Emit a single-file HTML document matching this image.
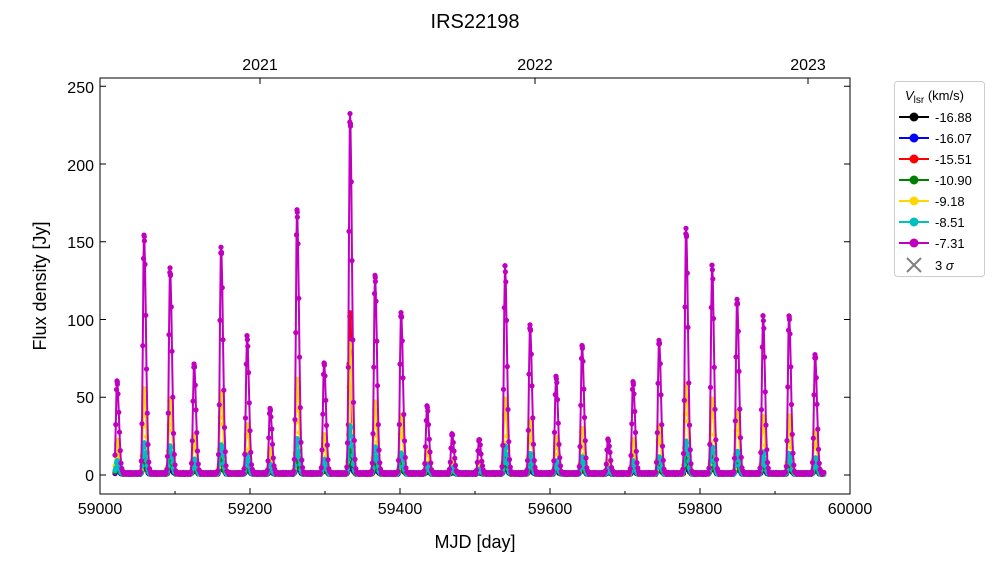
<!DOCTYPE html>
<html><head><meta charset="utf-8"><style>
body{margin:0;background:#fff;}
svg{font-family:"Liberation Sans","DejaVu Sans",sans-serif;}
</style></head><body>
<svg id="s" width="1000" height="562" xmlns="http://www.w3.org/2000/svg">
<rect width="1000" height="562" fill="#fff"/>
<text x="475" y="28" font-size="20" text-anchor="middle">IRS22198</text>
<g id="data"></g>
<rect x="100" y="78" width="750" height="416" fill="none" stroke="#000" stroke-width="1"/>
<g id="ticks" stroke="#000" stroke-width="1"></g>
<g font-size="16" text-anchor="middle">
<text x="100" y="514">59000</text><text x="250" y="514">59200</text><text x="400" y="514">59400</text><text x="550" y="514">59600</text><text x="700" y="514">59800</text><text x="850" y="514">60000</text>
<text x="260" y="70">2021</text><text x="535" y="70">2022</text><text x="808" y="70">2023</text>
</g>
<g font-size="16" text-anchor="end">
<text x="94" y="481">0</text><text x="94" y="403">50</text><text x="94" y="326">100</text><text x="94" y="248">150</text><text x="94" y="171">200</text><text x="94" y="93">250</text>
</g>
<text x="475" y="548" font-size="18" text-anchor="middle">MJD [day]</text>
<text transform="translate(46,286) rotate(-90)" font-size="18" text-anchor="middle">Flux density [Jy]</text>
<g id="leg">
<rect x="894.5" y="81.5" width="90" height="195" rx="3" fill="#fff" stroke="#ccc"/>
<text x="905" y="100" font-size="13"><tspan font-style="italic">V</tspan><tspan font-size="10" dy="3">lsr</tspan><tspan dy="-3"> (km/s)</tspan></text>
</g>
</svg>
<script>
const X=m=>100+(m-59000)*0.75, Y=v=>475-v*1.555;
const peaks=[[117,59],[144,153],[170,132],[194,70],[221,146],[247,88],[270,42],[297,169],[324,71],[350,231],[375,127],[401,104],[427,43],[452,25],[479,22],[505,133],[530,95],[556,63],[582,82],[608,22],[633,59],[659,86],[686,158],[712,134],[737,112],[763,101],[789,102],[815,76]];
const series=[["#000",0.04],["#0000ff",0.05],["#ff0000",0.08],["#008000",0.07],["#ffd700",0.36],["#00bfbf",0.13],["#bf00bf",1]];
const NS="http://www.w3.org/2000/svg";
const g=document.getElementById('data');
function el(t,a,p){const e=document.createElementNS(NS,t);for(const k in a)e.setAttribute(k,a[k]);(p||g).appendChild(e);return e;}
const pm=peaks.map(p=>[59000+(p[0]-100)/0.75,p[1]]);
let days=[];for(let d=59020;d<=59965;d+=1)days.push(d);
pm.forEach(p=>{days.push(p[0]);days.push(p[0]+0.6);});
days.sort((a,b)=>a-b);
function flux(d,sc,k){let v=0;for(const [t,A] of pm){const dt=d-t;const s=dt<0?1.5:2.6;v+=A*Math.exp(-dt*dt/(2*s*s));}
 let f=v*sc; if(k===2&&Math.abs(d-59333)<3)f=v*0.45; return f+1+0.6*Math.sin(d*1.7+k);}
series.forEach(([c,sc],k)=>{
 let pts=days.map(d=>[X(d),Y(flux(d,sc,k))]);
 el('polyline',{points:pts.map(p=>p[0].toFixed(1)+','+p[1].toFixed(1)).join(' '),fill:'none',stroke:c,'stroke-width':2});
 pts.forEach(p=>el('circle',{cx:p[0].toFixed(1),cy:p[1].toFixed(1),r:2.6,fill:c}));
});
const t=document.getElementById('ticks');
for(let m=59000;m<=60000;m+=200){const x=X(m);el('line',{x1:x,y1:494,x2:x,y2:488},t);}
for(let m=59100;m<=60000;m+=200){const x=X(m);el('line',{x1:x,y1:494,x2:x,y2:491},t);}
[260,535,808].forEach(x=>{el('line',{x1:x,y1:78,x2:x,y2:84},t);});
for(let v=0;v<=250;v+=50){const y=Y(v);el('line',{x1:100,y1:y,x2:106,y2:y},t);el('line',{x1:850,y1:y,x2:844,y2:y},t);}
const L=document.getElementById('leg');
const names=["-16.88","-16.07","-15.51","-10.90","-9.18","-8.51","-7.31"];
names.forEach((n,i)=>{const y=117+i*21;const c=series[i][0];
 el('line',{x1:899,y1:y,x2:929,y2:y,stroke:c,'stroke-width':2},L);
 el('circle',{cx:914,cy:y,r:4.5,fill:c},L);
 const tx=el('text',{x:935,y:y+5,'font-size':13},L);tx.textContent=n;});
const yx=265;
el('line',{x1:907,y1:yx-7,x2:921,y2:yx+7,stroke:'#808080','stroke-width':2},L);
el('line',{x1:907,y1:yx+7,x2:921,y2:yx-7,stroke:'#808080','stroke-width':2},L);
const tx=el('text',{x:935,y:yx+5,'font-size':13},L);tx.innerHTML='3 <tspan font-style="italic">σ</tspan>';
</script>
</body></html>
